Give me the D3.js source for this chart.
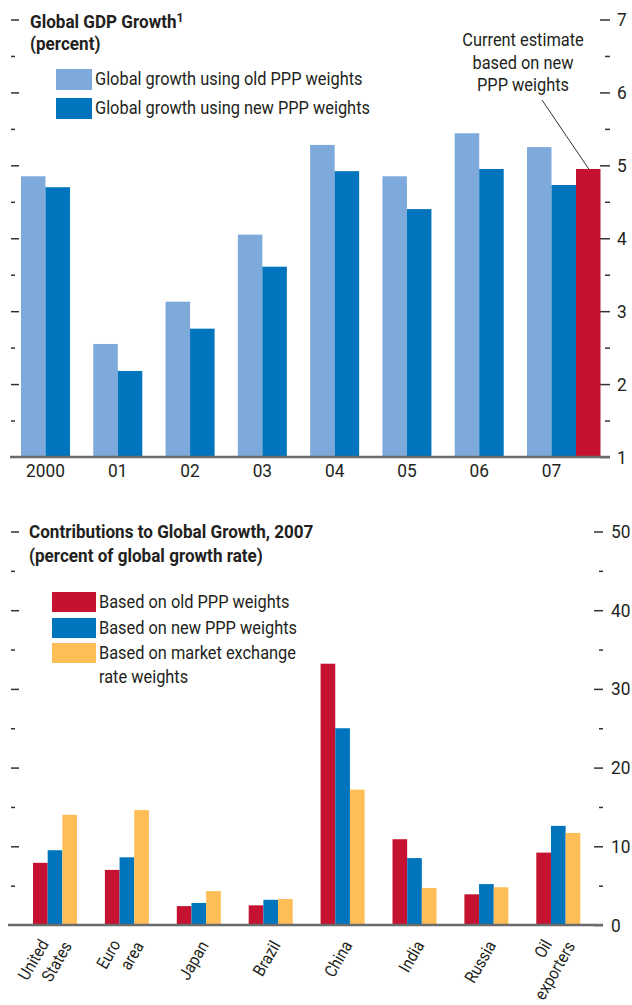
<!DOCTYPE html>
<html>
<head>
<meta charset="utf-8">
<script src="https://cdn.jsdelivr.net/npm/d3@7"></script>
<style>
  body { margin: 0; background: #fff; }
  svg text { font-family: Roboto, "Liberation Sans", sans-serif; fill: #231f20; }
</style>
</head>
<body>
<script>
// top panel data
const years = ["2000", "01", "02", "03", "04", "05", "06", "07"];
const oldPPP = [4.85, 2.55, 3.13, 4.05, 5.28, 4.85, 5.44, 5.25];
const newPPP = [4.70, 2.18, 2.76, 3.61, 4.92, 4.40, 4.95, 4.73];
const currentEstimate = 4.95; // 2007, new PPP weights
const topTicks = [1, 2, 3, 4, 5, 6, 7];

// bottom panel data
const regions = ["United States", "Euro area", "Japan", "Brazil", "China", "India", "Russia", "Oil exporters"];
const regionLines = [["United", "States"], ["Euro", "area"], ["Japan"], ["Brazil"], ["China"], ["India"], ["Russia"], ["Oil", "exporters"]];
const contribOld = [7.9, 7.0, 2.4, 2.5, 33.2, 10.9, 3.9, 9.2];
const contribNew = [9.5, 8.6, 2.8, 3.2, 25.0, 8.5, 5.2, 12.6];
const contribMarket = [14.0, 14.6, 4.3, 3.3, 17.2, 4.7, 4.8, 11.7];
const bottomTicks = [0, 10, 20, 30, 40, 50];

const c = {
  light: "#7eaadb",
  dark: "#0074bd",
  red: "#c41230",
  yellow: "#fdbd57",
  axis: "#6b6b6b",
  tick: "#333"
};

// squeeze text so it looks like a condensed face
const SX = 0.91;
const SX_BOLD = 0.95;

const w = 632, h = 1005;
const svg = d3.select("body").append("svg").attr("width", w).attr("height", h);

// text helper, narrowed horizontally
function txt(parent, x, y, str, size, anchor, bold, sx) {
  return parent.append("text")
    .attr("transform", `translate(${x},${y}) scale(${sx || (bold ? SX_BOLD : SX)},1)`)
    .attr("font-size", size)
    .attr("font-weight", bold ? "bold" : null)
    .attr("text-anchor", anchor || "start")
    .text(str);
}

// helper for the tick marks on both sides
function ticks(g, scale, values, x, len) {
  g.append("g")
    .attr("transform", `translate(${x},0)`)
    .call(d3.axisRight(scale).tickValues(values).tickSize(len).tickFormat(""))
    .call(s => s.select(".domain").remove())
    .call(s => s.selectAll("line").attr("stroke", c.tick).attr("stroke-width", 1.5));
}

// ---------- top panel ----------
const topPanel = svg.append("g");
const yTop = d3.scaleLinear().domain([1, 7]).range([457, 19.5]);
const xTop = d3.scaleBand().domain(years).range([21, 576]).paddingInner(0.322).paddingOuter(0);
const xSub = d3.scaleBand().domain(["old", "new"]).range([0, xTop.bandwidth()]);

const halfTop = d3.range(1.5, 7, 1);
ticks(topPanel, yTop, d3.range(2, 8), 11, 8);
ticks(topPanel, yTop, halfTop, 11, 4);
ticks(topPanel, yTop, topTicks, 600, 10);
ticks(topPanel, yTop, halfTop, 605, 5);

topPanel.selectAll(".old").data(years).join("rect")
  .attr("x", d => xTop(d) + xSub("old"))
  .attr("y", (d, i) => yTop(oldPPP[i]))
  .attr("width", xSub.bandwidth())
  .attr("height", (d, i) => yTop(1) - yTop(oldPPP[i]))
  .attr("fill", c.light);

topPanel.selectAll(".new").data(years).join("rect")
  .attr("x", d => xTop(d) + xSub("new"))
  .attr("y", (d, i) => yTop(newPPP[i]))
  .attr("width", xSub.bandwidth())
  .attr("height", (d, i) => yTop(1) - yTop(newPPP[i]))
  .attr("fill", c.dark);

const redX = xTop("07") + xTop.bandwidth();
topPanel.append("rect")
  .attr("x", redX)
  .attr("y", yTop(currentEstimate))
  .attr("width", xSub.bandwidth())
  .attr("height", yTop(1) - yTop(currentEstimate))
  .attr("fill", c.red);

topPanel.append("line")
  .attr("x1", 10).attr("x2", 610)
  .attr("y1", yTop(1)).attr("y2", yTop(1))
  .attr("stroke", c.axis).attr("stroke-width", 2.5);

topTicks.forEach(d => txt(topPanel, 617, yTop(d) + 6.5, d, 19));
years.forEach(d => txt(topPanel, xTop(d) + xTop.bandwidth() / 2, 477, d, 19, "middle"));

const t1 = txt(topPanel, 30, 28, "Global GDP Growth", 18, "start", true);
t1.append("tspan").attr("font-size", 13).attr("dy", -6).text("1");
txt(topPanel, 30, 50, "(percent)", 18, "start", true);

const topLegend = [
  { label: "Global growth using old PPP weights", color: c.light, y: 69 },
  { label: "Global growth using new PPP weights", color: c.dark, y: 98 }
];
topLegend.forEach(d => {
  topPanel.append("rect").attr("x", 56).attr("y", d.y).attr("width", 36).attr("height", 21).attr("fill", d.color);
  txt(topPanel, 95, d.y + 16, d.label, 18);
});

["Current estimate", "based on new", "PPP weights"].forEach((s, i) => {
  txt(topPanel, 523, 46 + i * 22.5, s, 18, "middle");
});
topPanel.append("line")
  .attr("x1", 542).attr("y1", 100)
  .attr("x2", redX + xSub.bandwidth() / 2 + 0.5).attr("y2", yTop(currentEstimate))
  .attr("stroke", c.tick).attr("stroke-width", 1);

// ---------- bottom panel ----------
const bot = svg.append("g");
const yBot = d3.scaleLinear().domain([0, 50]).range([925, 531.5]);
const xBot = d3.scaleBand().domain(regions).range([33, 580.3]).paddingInner(0.388).paddingOuter(0);
const xSub2 = d3.scaleBand().domain(["old", "new", "market"]).range([0, xBot.bandwidth()]);

const halfBot = d3.range(5, 50, 10);
ticks(bot, yBot, [10, 20, 30, 40, 50], 11, 8);
ticks(bot, yBot, halfBot, 11, 4);
ticks(bot, yBot, bottomTicks, 594, 9);
ticks(bot, yBot, halfBot, 599, 4);

const series = [
  { key: "old", values: contribOld, color: c.red },
  { key: "new", values: contribNew, color: c.dark },
  { key: "market", values: contribMarket, color: c.yellow }
];
series.forEach(s => {
  bot.selectAll(".b-" + s.key).data(regions).join("rect")
    .attr("x", d => xBot(d) + xSub2(s.key))
    .attr("y", (d, i) => yBot(s.values[i]))
    .attr("width", xSub2.bandwidth())
    .attr("height", (d, i) => yBot(0) - yBot(s.values[i]))
    .attr("fill", s.color);
});

bot.append("line")
  .attr("x1", 8).attr("x2", 603)
  .attr("y1", yBot(0)).attr("y2", yBot(0))
  .attr("stroke", c.axis).attr("stroke-width", 2.5);

bottomTicks.forEach(d => txt(bot, 611, yBot(d) + 6.5, d, 19));

// rotated category labels, multi-line ones stacked and centred on the group
regions.forEach((r, i) => {
  const lines = regionLines[i];
  const n = lines.length;
  const g = bot.append("g")
    .attr("transform", `translate(${xBot(r) + xBot.bandwidth() / 2},945) rotate(-60)`);
  lines.forEach((s, j) => {
    const k = j - (n - 1) / 2;
    txt(g, (n > 1 ? 3 : 5) + k * 10, (n > 1 ? 5 : 9) + k * 21, s, 17, "end", false, 0.89);
  });
});

txt(bot, 29, 538, "Contributions to Global Growth, 2007", 18, "start", true);
txt(bot, 29, 562, "(percent of global growth rate)", 18, "start", true);

const botLegend = [
  { label: ["Based on old PPP weights"], color: c.red, y: 592 },
  { label: ["Based on new PPP weights"], color: c.dark, y: 618 },
  { label: ["Based on market exchange", "rate weights"], color: c.yellow, y: 643 }
];
botLegend.forEach(d => {
  bot.append("rect").attr("x", 52).attr("y", d.y).attr("width", 44).attr("height", 20).attr("fill", d.color);
  d.label.forEach((s, j) => txt(bot, 99, d.y + 16 + j * 24, s, 18));
});
</script>
</body>
</html>
